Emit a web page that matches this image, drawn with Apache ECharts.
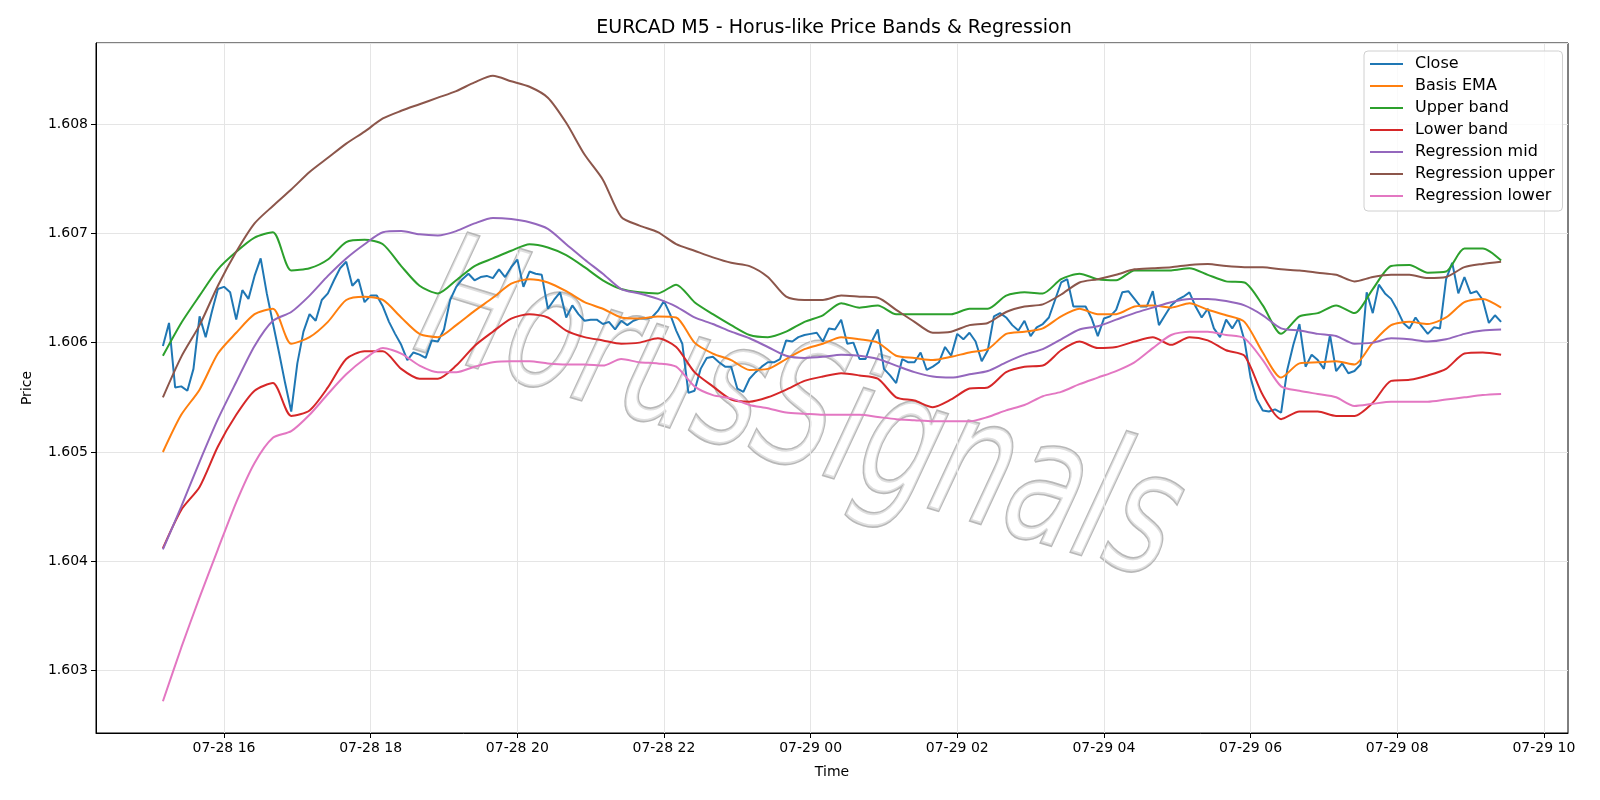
<!DOCTYPE html>
<html>
<head>
<meta charset="utf-8">
<title>EURCAD M5</title>
<script src="https://cdn.jsdelivr.net/npm/echarts@6/dist/echarts.min.js"></script>
<style>
html,body{margin:0;padding:0;background:#fff;}
#chart{width:1600px;height:800px;}
</style>
</head>
<body>
<div id="chart"></div>
<script>
// 收盘价, 5分钟一根, 07-28 15:10 起
var closeStart = Date.UTC(2025, 6, 28, 15, 10);
var closeStep = 5 * 60000;
var closeVals = [
	1.60597,1.60618,1.60559,1.60560,1.60556,1.60576,1.60624,1.60605,1.60628,1.60649,
	1.60651,1.60646,1.60621,1.60648,1.60640,1.60661,1.60677,1.60645,1.60618,1.60591,
	1.60563,1.60537,1.60581,1.60610,1.60626,1.60620,1.60639,1.60645,1.60657,1.60668,
	1.60674,1.60652,1.60658,1.60637,
	1.60643,1.60643,1.60633,1.60619,1.60608,1.60598,1.60584,1.60591,1.60589,1.60586,1.60602,1.60601,
	1.60612,1.60639,1.60651,1.60658,1.60663,1.60657,1.60660,1.60661,1.60659,1.60667,1.60660,1.60669,
	1.60676,1.60651,1.60665,1.60663,1.60662,1.60631,1.60639,1.60646,1.60623,1.60634,1.60626,1.60620,
	1.60621,1.60621,1.60617,1.60619,1.60612,1.60620,1.60616,1.60620,1.60622,1.60622,1.60623,1.60629,
	1.60638,1.60626,1.60611,1.60599,1.60554,1.60556,1.60576,1.60586,1.60587,1.60582,1.60578,1.60578,
	1.60558,1.60555,1.60567,1.60573,1.60578,1.60582,1.60582,1.60585,1.60602,1.60601,1.60605,1.60607,
	1.60608,1.60609,1.60601,1.60613,1.60612,1.60621,1.60599,1.60600,1.60585,1.60585,1.60601,1.60612,
	1.60576,1.60570,1.60563,1.60585,1.60582,1.60582,1.60591,1.60575,1.60578,1.60582,1.60596,1.60588,
	1.60608,1.60603,1.60609,1.60601,1.60583,1.60593,1.60624,1.60627,1.60623,1.60616,1.60611,1.60620,
	1.60606,1.60614,1.60617,1.60623,1.60639,1.60655,1.60658,1.60633,1.60633,1.60633,1.60622,1.60606,
	1.60622,1.60624,1.60630,1.60646,1.60647,1.60640,1.60633,1.60633,1.60647,1.60616,1.60625,1.60634,
	1.60639,1.60642,1.60646,1.60633,1.60623,1.60631,1.60613,1.60605,1.60621,1.60613,1.60622,1.60602,
	1.60568,1.60548,1.60538,1.60537,1.60539,1.60536,1.60575,1.60598,1.60617,1.60578,1.60589,1.60584,
	1.60576,1.60607,1.60574,1.60581,1.60572,1.60574,1.60580,1.60646,1.60627,1.60653,1.60645,1.60640,
	1.60630,1.60618,1.60613,1.60623,1.60615,1.60608,1.60614,1.60613,1.60658,1.60673,1.60645,1.60660,
	1.60645,1.60647,1.60639,1.60618,1.60625,1.60619
];

// 各条带线, 15分钟取一个点, 同样 15:10 起
var bandStep = 15 * 60000;
var basisEma = [
	1.60500,1.60534,1.60557,1.60590,1.60609,1.60626,1.60631,1.60599,1.60605,1.60619,1.60639,1.60642,
	1.60639,1.60623,1.60608,1.60605,1.60616,1.60629,1.60641,1.60654,1.60658,1.60655,1.60647,1.60637,
	1.60631,1.60623,1.60622,1.60624,1.60623,1.60600,1.60590,1.60584,1.60575,1.60576,1.60585,1.60594,
	1.60599,1.60605,1.60603,1.60600,1.60588,1.60586,1.60584,1.60587,1.60591,1.60594,1.60608,1.60610,
	1.60613,1.60624,1.60631,1.60626,1.60626,1.60633,1.60634,1.60632,1.60636,1.60630,1.60625,1.60619,
	1.60591,1.60568,1.60581,1.60582,1.60583,1.60580,1.60600,1.60616,1.60619,1.60617,1.60623,1.60637,
	1.60640,1.60632
];
var upperBand = [
	1.60588,1.60618,1.60643,1.60667,1.60683,1.60696,1.60701,1.60666,1.60668,1.60676,1.60692,1.60694,
	1.60690,1.60670,1.60652,1.60645,1.60657,1.60670,1.60677,1.60684,1.60690,1.60687,1.60680,1.60669,
	1.60657,1.60649,1.60646,1.60645,1.60653,1.60637,1.60626,1.60616,1.60607,1.60605,1.60610,1.60619,
	1.60625,1.60636,1.60632,1.60634,1.60626,1.60626,1.60626,1.60626,1.60631,1.60631,1.60643,1.60646,
	1.60645,1.60658,1.60663,1.60658,1.60657,1.60666,1.60666,1.60666,1.60668,1.60662,1.60656,1.60655,
	1.60634,1.60608,1.60624,1.60627,1.60634,1.60627,1.60649,1.60670,1.60671,1.60664,1.60665,1.60686,
	1.60686,1.60675
];
var lowerBand = [
	1.60412,1.60447,1.60468,1.60505,1.60534,1.60556,1.60563,1.60533,1.60538,1.60559,1.60585,1.60592,
	1.60592,1.60576,1.60567,1.60567,1.60579,1.60597,1.60610,1.60622,1.60626,1.60623,1.60611,1.60605,
	1.60602,1.60599,1.60600,1.60604,1.60596,1.60573,1.60560,1.60548,1.60546,1.60550,1.60557,1.60565,
	1.60569,1.60572,1.60570,1.60567,1.60550,1.60547,1.60541,1.60548,1.60558,1.60559,1.60573,1.60578,
	1.60579,1.60593,1.60601,1.60595,1.60596,1.60601,1.60605,1.60598,1.60605,1.60602,1.60593,1.60588,
	1.60552,1.60530,1.60537,1.60537,1.60533,1.60533,1.60545,1.60565,1.60566,1.60570,1.60576,1.60590,
	1.60591,1.60589
];
var regMid = [
	1.60411,1.60450,1.60491,1.60530,1.60564,1.60597,1.60620,1.60628,1.60643,1.60661,1.60677,1.60690,
	1.60701,1.60702,1.60699,1.60698,1.60702,1.60709,1.60714,1.60713,1.60710,1.60704,1.60690,1.60676,
	1.60663,1.60649,1.60645,1.60640,1.60633,1.60623,1.60617,1.60610,1.60604,1.60596,1.60588,1.60586,
	1.60587,1.60589,1.60588,1.60585,1.60579,1.60573,1.60569,1.60568,1.60571,1.60574,1.60582,1.60589,
	1.60594,1.60603,1.60612,1.60615,1.60621,1.60627,1.60632,1.60637,1.60640,1.60640,1.60638,1.60634,
	1.60625,1.60613,1.60611,1.60608,1.60606,1.60599,1.60600,1.60604,1.60603,1.60601,1.60603,1.60608,
	1.60611,1.60612
];
var regUpper = [
	1.60550,1.60587,1.60616,1.60652,1.60683,1.60709,1.60725,1.60740,1.60756,1.60769,1.60782,1.60793,
	1.60805,1.60812,1.60818,1.60824,1.60830,1.60838,1.60844,1.60839,1.60834,1.60824,1.60801,1.60772,
	1.60749,1.60715,1.60707,1.60701,1.60690,1.60684,1.60678,1.60673,1.60670,1.60660,1.60642,1.60639,
	1.60639,1.60643,1.60642,1.60641,1.60630,1.60619,1.60609,1.60610,1.60616,1.60618,1.60628,1.60633,
	1.60635,1.60644,1.60655,1.60658,1.60662,1.60667,1.60668,1.60669,1.60671,1.60672,1.60670,1.60669,
	1.60669,1.60667,1.60666,1.60664,1.60662,1.60656,1.60660,1.60662,1.60662,1.60659,1.60660,1.60669,
	1.60672,1.60674
];
var regLower = [
	1.60272,1.60321,1.60367,1.60411,1.60454,1.60490,1.60513,1.60519,1.60534,1.60553,1.60571,1.60585,
	1.60595,1.60590,1.60579,1.60573,1.60573,1.60578,1.60582,1.60583,1.60583,1.60581,1.60580,1.60580,
	1.60579,1.60585,1.60582,1.60581,1.60578,1.60560,1.60552,1.60549,1.60543,1.60540,1.60536,1.60535,
	1.60534,1.60534,1.60534,1.60532,1.60530,1.60529,1.60528,1.60528,1.60528,1.60532,1.60538,1.60543,
	1.60551,1.60555,1.60562,1.60568,1.60574,1.60582,1.60595,1.60607,1.60610,1.60610,1.60607,1.60604,
	1.60584,1.60560,1.60556,1.60553,1.60550,1.60542,1.60544,1.60546,1.60546,1.60546,1.60548,1.60550,
	1.60552,1.60553
];

// x 轴刻度, 07-28 16 起每2小时
var tickStart = Date.UTC(2025, 6, 28, 16, 0);
var tickStep = 2 * 3600000;
var tickLabels = ['07-28 16','07-28 18','07-28 20','07-28 22','07-29 00','07-29 02','07-29 04','07-29 06','07-29 08','07-29 10'];

var seriesNames = ['Close','Basis EMA','Upper band','Lower band','Regression mid','Regression upper','Regression lower'];
var seriesColors = ['#1f77b4','#ff7f0e','#2ca02c','#d62728','#9467bd','#8c564b','#e377c2'];

function pairs(start, step, vals){
	var out = [];
	for (var i = 0; i < vals.length; i++) {
		out.push([start + i * step, vals[i]]);
	}
	return out;
}

function zhexiantu(name){
	var myChar = echarts.init(document.getElementById(name));
	var font = 'DejaVu Sans';
	var xMin = closeStart - 54.75 * 60000;
	var xMax = closeStart + (closeVals.length - 1) * closeStep + 54.75 * 60000;
	var tickVals = [];
	var labelMap = {};
	for (var k = 0; k < tickLabels.length; k++) {
		tickVals.push(tickStart + k * tickStep);
		labelMap[tickStart + k * tickStep] = tickLabels[k];
	}
	var allData = [
		pairs(closeStart, closeStep, closeVals),
		pairs(closeStart, bandStep, basisEma),
		pairs(closeStart, bandStep, upperBand),
		pairs(closeStart, bandStep, lowerBand),
		pairs(closeStart, bandStep, regMid),
		pairs(closeStart, bandStep, regUpper),
		pairs(closeStart, bandStep, regLower)
	];
	var series = [{
		// 竖向网格线
		name: 'grid-x',
		type: 'line',
		data: [],
		z: 1,
		markLine: {
			silent: true,
			symbol: 'none',
			z: 1,
			label: { show: false },
			lineStyle: { color: '#e5e5e5', width: 1, type: 'solid' },
			data: tickVals.map(function (t) { return { xAxis: t }; })
		}
	}];
	for (var i = 0; i < seriesNames.length; i++) {
		series.push({
			name: seriesNames[i],
			type: 'line',
			data: allData[i],
			showSymbol: false,
			smooth: i === 0 ? false : 0.25,
			lineStyle: { color: seriesColors[i], width: 2 },
			itemStyle: { color: seriesColors[i] },
			z: 3
		});
	}
	var option = {
		animation: false,
		backgroundColor: '#fff',
		title: {
			text: 'EURCAD M5 - Horus-like Price Bands & Regression',
			left: 829,
			textAlign: 'center',
			top: 14,
			textStyle: { fontFamily: font, fontSize: 19, fontWeight: 'normal', color: '#000' }
		},
		grid: {
			left: 96, right: 32, top: 43, bottom: 67,
			show: true, borderColor: '#000', borderWidth: 1
		},
		legend: {
			orient: 'vertical',
			left: 1364,
			top: 51,
			padding: [5, 8, 7, 6],
			itemWidth: 33,
			itemHeight: 2,
			itemGap: 6,
			icon: 'rect',
			backgroundColor: 'rgba(255,255,255,0.8)',
			borderColor: '#d0d0d0',
			borderWidth: 1,
			borderRadius: 4,
			textStyle: { fontFamily: font, fontSize: 16, lineHeight: 16, color: '#000', padding: [0, 0, 0, 7] },
			data: seriesNames
		},
		xAxis: {
			type: 'value',
			min: xMin,
			max: xMax,
			name: 'Time',
			nameLocation: 'middle',
			nameGap: 32,
			nameTextStyle: { fontFamily: font, fontSize: 14, color: '#000' },
			axisLine: { show: true, lineStyle: { color: '#000', width: 1 } },
			axisTick: { show: true, length: 5, lineStyle: { color: '#000' }, customValues: tickVals },
			axisLabel: {
				fontFamily: font, fontSize: 14, color: '#000', margin: 8,
				customValues: tickVals,
				formatter: function (v) { return labelMap[v] || ''; }
			},
			splitLine: { show: false }
		},
		yAxis: {
			type: 'value',
			min: 1.60243,
			max: 1.60874,
			splitNumber: 5,
			scale: true,
			name: 'Price',
			nameLocation: 'middle',
			nameGap: 62,
			nameRotate: 90,
			nameTextStyle: { fontFamily: font, fontSize: 14, color: '#000' },
			axisLine: { show: true, lineStyle: { color: '#000', width: 1 } },
			axisTick: { show: true, length: 5, lineStyle: { color: '#000' } },
			axisLabel: {
				fontFamily: font, fontSize: 14, color: '#000', margin: 8,
				showMinLabel: false, showMaxLabel: false,
				formatter: function (v) { return v.toFixed(3); }
			},
			splitLine: { show: true, lineStyle: { color: '#e5e5e5', width: 1 } }
		},
		// 水印
		graphic: [{
			type: 'text',
			x: 798,
			y: 420,
			rotation: -0.30,
			scaleX: 0.8,
			scaleY: 1.15,
			z: 1,
			silent: true,
			style: {
				text: 'HorusSignals',
				font: 'italic 150px "DejaVu Sans"',
				textAlign: 'center',
				textVerticalAlign: 'middle',
				fill: 'rgba(255,255,255,0.55)',
				stroke: 'rgba(160,160,160,0.75)',
				lineWidth: 3,
				shadowColor: 'rgba(0,0,0,0.3)',
				shadowOffsetX: 5,
				shadowOffsetY: 5,
				shadowBlur: 2
			}
		}],
		series: series
	};
	myChar.setOption(option);
}
zhexiantu('chart');
</script>
</body>
</html>
